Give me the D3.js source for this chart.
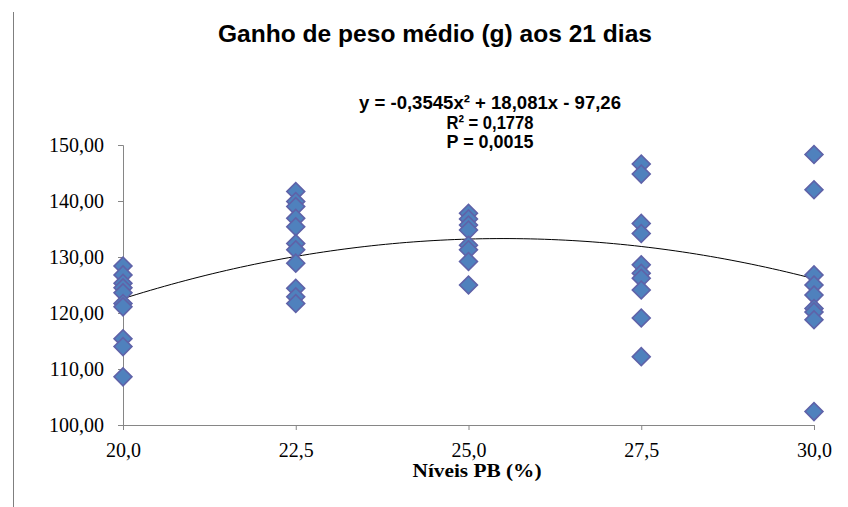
<!DOCTYPE html>
<html>
<head>
<meta charset="utf-8">
<script src="https://cdn.jsdelivr.net/npm/d3@7"></script>
<style>
  body { margin: 0; background: #fff; }
</style>
</head>
<body>
<div id="chart"></div>
<script>
const width = 848;
const height = 507;

// níveis de proteína bruta (%)
const levels = [20, 22.5, 25, 27.5, 30];
// ganho de peso por nível (g)
const gain20 = [128.4, 126.8, 125.3, 124.5, 123.6, 121.7, 121.1, 115.4, 114.0, 108.6];
const gain225 = [141.7, 139.9, 139.0, 136.9, 135.4, 132.4, 131.3, 128.9, 124.4, 122.9, 121.7];
const gain25 = [137.8, 136.8, 135.7, 134.8, 132.1, 131.3, 129.2, 125.0];
const gain275 = [146.6, 144.8, 136.0, 134.2, 128.6, 127.1, 126.2, 124.1, 119.1, 112.2];
const gain30 = [148.3, 142.0, 126.8, 125.0, 123.2, 120.8, 120.2, 118.8, 102.4];
const yTicks = [100, 110, 120, 130, 140, 150];
// coeficientes da regressão quadrática
const coef = [-0.3545, 18.081, -97.26];
const eqLines = ["y = -0,3545x² + 18,081x - 97,26", "R² = 0,1778", "P = 0,0015"];

const groups = [gain20, gain225, gain25, gain275, gain30];
const points = [];
groups.forEach((g, i) => g.forEach(v => points.push({ x: levels[i], y: v })));

const svg = d3.select("#chart").append("svg")
  .attr("width", width)
  .attr("height", height);

const x = d3.scaleLinear().domain([20, 30]).range([123, 814]);
const y = d3.scaleLinear().domain([100, 150]).range([425, 145]);

const comma = f => (v => f(v).replace(".", ","));

// borda esquerda
svg.append("line")
  .attr("x1", 13.5).attr("x2", 13.5)
  .attr("y1", 12).attr("y2", height)
  .attr("stroke", "#7f7f7f");

// eixo y
const yAxis = svg.append("g")
  .attr("transform", `translate(${x(20)},0)`)
  .call(d3.axisLeft(y).tickValues(yTicks).tickSize(5).tickPadding(14)
    .tickFormat(comma(d3.format(".2f"))));

// eixo x
const xAxis = svg.append("g")
  .attr("transform", `translate(0,${y(100)})`)
  .call(d3.axisBottom(x).tickValues(levels).tickSize(5).tickPadding(13)
    .tickFormat(comma(d3.format(".1f"))));

[yAxis, xAxis].forEach(a => {
  a.select(".domain").attr("stroke", "#868686");
  a.selectAll(".tick line").attr("stroke", "#868686");
  a.selectAll("text")
    .attr("font-family", "'Liberation Serif', 'Times New Roman', serif")
    .attr("font-size", 20)
    .attr("fill", "#000");
});
yAxis.selectAll("text").attr("dy", "0.34em");

// linha de tendência
const curve = d3.range(20, 30.001, 0.1).map(v => [v, coef[0] * v * v + coef[1] * v + coef[2]]);
svg.append("path")
  .datum(curve)
  .attr("fill", "none")
  .attr("stroke", "#000")
  .attr("stroke-width", 1)
  .attr("d", d3.line().x(d => x(d[0])).y(d => y(d[1])));

// pontos (losangos)
svg.append("g")
  .selectAll("path")
  .data(points)
  .enter().append("path")
  .attr("transform", d => `translate(${x(d.x)},${y(d.y)}) rotate(45)`)
  .attr("d", d3.symbol().type(d3.symbolSquare).size(160))
  .attr("fill", "#4f81bd")
  .attr("stroke", "#5f62a8")
  .attr("stroke-width", 1.6);

// título
svg.append("text")
  .attr("x", 435).attr("y", 42)
  .attr("text-anchor", "middle")
  .attr("font-family", "'Liberation Sans', Arial, sans-serif")
  .attr("font-weight", "bold")
  .attr("font-size", 24)
  .attr("textLength", 434)
  .attr("lengthAdjust", "spacingAndGlyphs")
  .text("Ganho de peso médio (g) aos 21 dias");

// equação
const eqWidths = [262, 87, 87];
svg.append("g")
  .selectAll("text")
  .data(eqLines)
  .enter().append("text")
  .attr("x", 490)
  .attr("y", (d, i) => 109 + i * 19.5)
  .attr("text-anchor", "middle")
  .attr("font-family", "'Liberation Sans', Arial, sans-serif")
  .attr("font-weight", "bold")
  .attr("font-size", 18.5)
  .attr("textLength", (d, i) => eqWidths[i])
  .attr("lengthAdjust", "spacingAndGlyphs")
  .text(d => d);

// título do eixo x
svg.append("text")
  .attr("x", 477).attr("y", 477)
  .attr("text-anchor", "middle")
  .attr("font-family", "'Liberation Serif', 'Times New Roman', serif")
  .attr("font-weight", "bold")
  .attr("font-size", 19)
  .attr("textLength", 129)
  .attr("lengthAdjust", "spacingAndGlyphs")
  .text("Níveis PB (%)");
</script>
</body>
</html>
